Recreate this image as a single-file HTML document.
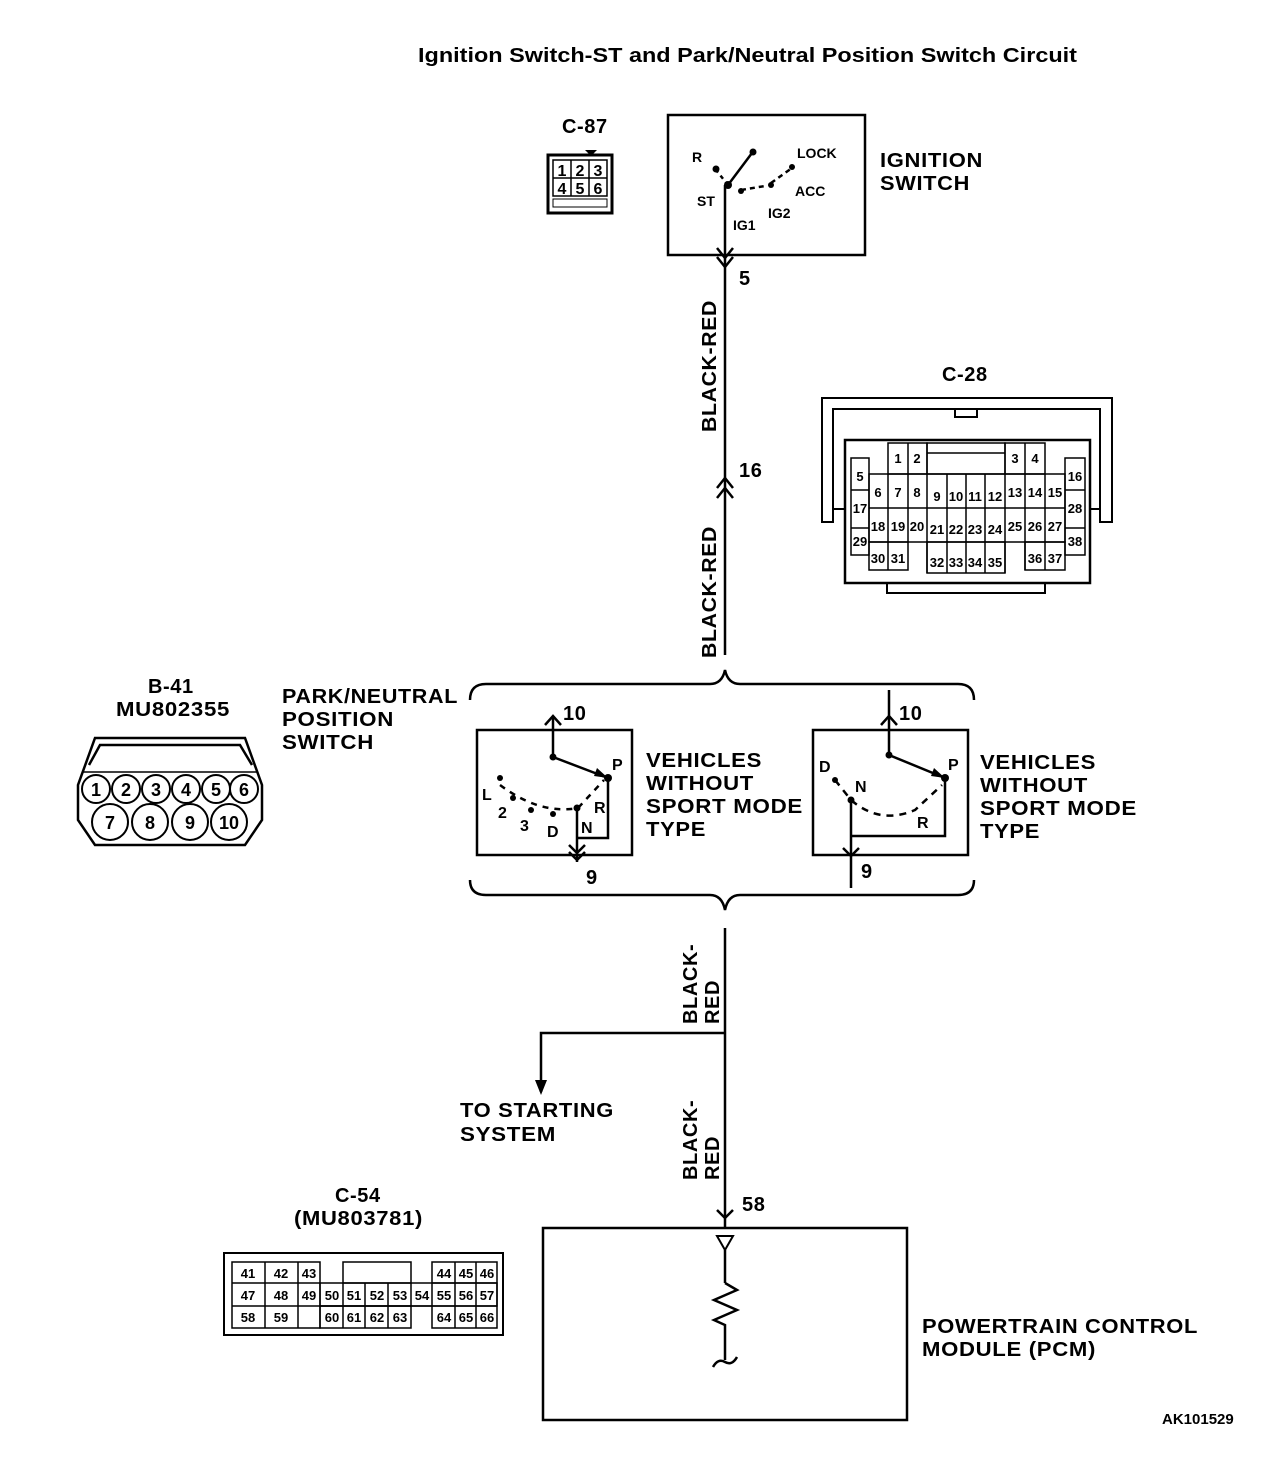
<!DOCTYPE html>
<html><head><meta charset="utf-8"><style>
html,body{margin:0;padding:0;background:#fff;}
svg{display:block;}
text{font-family:"Liberation Sans",sans-serif;fill:#000;font-weight:bold;}
.w{letter-spacing:0.6px;}
</style></head><body>
<svg width="1280" height="1462" viewBox="0 0 1280 1462" xmlns="http://www.w3.org/2000/svg">
<g stroke="#000" fill="none" stroke-width="2.5">
<line x1="725" y1="185" x2="725" y2="655"/>
<line x1="725" y1="928" x2="725" y2="1228"/>
<polyline points="725,1033 541,1033 541,1092"/>
<rect x="668" y="115" width="197" height="140"/>
<line x1="728" y1="185" x2="752" y2="153"/>
<line x1="728" y1="185" x2="716" y2="170" stroke-dasharray="4,4"/>
<line x1="741" y1="190" x2="765" y2="186" stroke-dasharray="5,4"/>
<line x1="771" y1="183" x2="792" y2="168" stroke-dasharray="5,4"/>
<polyline points="717,257 725,267 733,257"/>
<polyline points="717,248 725,258 733,248"/>
<polyline points="717,488 725,478 733,488"/>
<polyline points="717,498 725,488 733,498"/>
<path d="M470,700 Q470,684 486,684 L710,684 Q722,684 725,670 Q728,684 740,684 L958,684 Q974,684 974,700"/>
<path d="M470,880 Q470,895 486,895 L710,895 Q722,895 725,910 Q728,895 740,895 L958,895 Q974,895 974,880"/>
<rect x="477" y="730" width="155" height="125"/>
<line x1="553" y1="718" x2="553" y2="757"/>
<polyline points="545,725 553,716 561,725"/>
<line x1="553" y1="757" x2="608" y2="778"/>
<polyline points="608,778 608,838 577,838"/>
<line x1="577" y1="808" x2="577" y2="862"/>
<polyline points="569,845 577,853 585,845"/>
<polyline points="569,852 577,860 585,852"/>
<path d="M500,785 Q540,815 578,808 L604,780" stroke-dasharray="6,6"/>
<rect x="813" y="730" width="155" height="125"/>
<line x1="889" y1="690" x2="889" y2="755"/>
<polyline points="881,725 889,716 897,725"/>
<line x1="889" y1="755" x2="945" y2="778"/>
<polyline points="945,778 945,836 851,836"/>
<line x1="851" y1="800" x2="851" y2="888"/>
<polyline points="843,848 851,856 859,848"/>
<path d="M835,780 L851,800 Q880,825 915,810 L942,785" stroke-dasharray="7,6"/>
<rect x="543" y="1228" width="364" height="192"/>
<polyline points="717,1210 725,1218 733,1210"/>
<line x1="725" y1="1250" x2="725" y2="1283"/>
<polyline points="725,1283 737,1290 714,1300 737,1310 714,1320 725,1325 725,1360"/>
<path d="M713,1367 Q718,1358 725,1362 Q732,1366 737,1357"/>
<rect x="548" y="155" width="64" height="58" stroke-width="3"/>
<rect x="553" y="160" width="54" height="36" stroke-width="1.5"/>
<line x1="553" y1="178" x2="607" y2="178" stroke-width="1.5"/>
<line x1="571" y1="160" x2="571" y2="196" stroke-width="1.5"/>
<line x1="589" y1="160" x2="589" y2="196" stroke-width="1.5"/>
<rect x="553" y="199" width="54" height="8" stroke-width="1"/>
<path d="M95,738 L245,738 L262,785 L262,820 L245,845 L95,845 L78,820 L78,785 Z"/>
<path d="M89,765 L100,745 L240,745 L252,765"/>
<line x1="82" y1="772" x2="258" y2="772" stroke-width="1.5"/>
<path d="M822,398 L1112,398 L1112,522 L1100,522 L1100,409 L833,409 L833,522 L822,522 Z" stroke-width="2"/>
<rect x="955" y="409" width="22" height="8" stroke-width="2"/>
<rect x="845" y="440" width="245" height="143" stroke-width="2.5"/>
<rect x="887" y="583" width="158" height="10" stroke-width="2"/>
<line x1="833" y1="509" x2="845" y2="509" stroke-width="2"/>
<line x1="1090" y1="509" x2="1100" y2="509" stroke-width="2"/>
<rect x="224" y="1253" width="279" height="82" stroke-width="2"/>
</g>
<g fill="#000">
<circle cx="728" cy="185" r="4"/><circle cx="753" cy="152" r="3.5"/><circle cx="716" cy="169" r="3.5"/>
<circle cx="741" cy="191" r="3"/><circle cx="771" cy="185" r="3"/><circle cx="792" cy="167" r="3"/>
<circle cx="553" cy="757" r="3.5"/><circle cx="608" cy="778" r="4"/><circle cx="577" cy="808" r="3.5"/><circle cx="553" cy="814" r="3"/><circle cx="500" cy="778" r="3"/><circle cx="513" cy="798" r="3"/><circle cx="531" cy="810" r="3"/>
<polygon points="597,768 608,778 594,776"/>
<circle cx="889" cy="755" r="3.5"/><circle cx="945" cy="778" r="4"/><circle cx="851" cy="800" r="3.5"/><circle cx="835" cy="780" r="3"/>
<polygon points="934,768 945,778 931,776"/>
<polygon points="535,1080 547,1080 541,1095"/>
<polygon points="585,150 597,150 591,156"/>
</g>
<polygon points="717,1236 733,1236 725,1250" fill="none" stroke="#000" stroke-width="2"/>
<g fill="none" stroke="#000" stroke-width="2">
<circle cx="96" cy="789" r="14"/><circle cx="126" cy="789" r="14"/><circle cx="156" cy="789" r="14"/><circle cx="186" cy="789" r="14"/><circle cx="216" cy="789" r="14"/><circle cx="244" cy="789" r="14"/>
<circle cx="110" cy="822" r="18"/><circle cx="150" cy="822" r="18"/><circle cx="190" cy="822" r="18"/><circle cx="229" cy="822" r="18"/>
</g>
<g font-size="18" text-anchor="middle">
<text x="96" y="796">1</text><text x="126" y="796">2</text><text x="156" y="796">3</text><text x="186" y="796">4</text><text x="216" y="796">5</text><text x="244" y="796">6</text>
<text x="110" y="829">7</text><text x="150" y="829">8</text><text x="190" y="829">9</text><text x="229" y="829">10</text>
</g>
<g font-size="16" text-anchor="middle">
<text x="562" y="176">1</text><text x="580" y="176">2</text><text x="598" y="176">3</text>
<text x="562" y="194">4</text><text x="580" y="194">5</text><text x="598" y="194">6</text>
</g>
<g fill="none" stroke="#000" stroke-width="1.5">
<rect x="888" y="443" width="39" height="31"/><line x1="908" y1="443" x2="908" y2="474"/>
<rect x="927" y="443" width="78" height="31"/><line x1="927" y1="453" x2="1005" y2="453"/>
<rect x="1005" y="443" width="40" height="31"/><line x1="1025" y1="443" x2="1025" y2="474"/>
<rect x="851" y="458" width="18" height="97"/><line x1="851" y1="490" x2="869" y2="490"/><line x1="851" y1="528" x2="869" y2="528"/>
<rect x="1065" y="458" width="20" height="97"/><line x1="1065" y1="490" x2="1085" y2="490"/><line x1="1065" y1="528" x2="1085" y2="528"/>
<rect x="869" y="474" width="196" height="68"/>
<line x1="869" y1="508" x2="1065" y2="508"/>
<line x1="888" y1="474" x2="888" y2="570"/><line x1="908" y1="474" x2="908" y2="542"/><line x1="927" y1="474" x2="927" y2="573"/><line x1="947" y1="474" x2="947" y2="573"/><line x1="966" y1="474" x2="966" y2="573"/><line x1="985" y1="474" x2="985" y2="573"/><line x1="1005" y1="474" x2="1005" y2="573"/><line x1="1025" y1="474" x2="1025" y2="570"/><line x1="1045" y1="474" x2="1045" y2="570"/>
<rect x="869" y="542" width="39" height="28"/>
<rect x="927" y="542" width="78" height="31"/>
<rect x="1025" y="542" width="40" height="28"/>
</g>
<g font-size="13" text-anchor="middle">
<text x="898" y="463">1</text><text x="917" y="463">2</text><text x="1015" y="463">3</text><text x="1035" y="463">4</text>
<text x="860" y="481">5</text><text x="1075" y="481">16</text>
<text x="878" y="497">6</text><text x="898" y="497">7</text><text x="917" y="497">8</text><text x="937" y="501">9</text><text x="956" y="501">10</text><text x="975" y="501">11</text><text x="995" y="501">12</text><text x="1015" y="497">13</text><text x="1035" y="497">14</text><text x="1055" y="497">15</text>
<text x="860" y="513">17</text><text x="1075" y="513">28</text>
<text x="878" y="531">18</text><text x="898" y="531">19</text><text x="917" y="531">20</text><text x="937" y="534">21</text><text x="956" y="534">22</text><text x="975" y="534">23</text><text x="995" y="534">24</text><text x="1015" y="531">25</text><text x="1035" y="531">26</text><text x="1055" y="531">27</text>
<text x="860" y="546">29</text><text x="1075" y="546">38</text>
<text x="878" y="563">30</text><text x="898" y="563">31</text><text x="937" y="567">32</text><text x="956" y="567">33</text><text x="975" y="567">34</text><text x="995" y="567">35</text><text x="1035" y="563">36</text><text x="1055" y="563">37</text>
</g>
<g fill="none" stroke="#000" stroke-width="1.5">
<rect x="232" y="1262" width="88" height="66"/>
<line x1="232" y1="1283" x2="320" y2="1283"/><line x1="232" y1="1306" x2="497" y2="1306"/>
<line x1="265" y1="1262" x2="265" y2="1328"/><line x1="298" y1="1262" x2="298" y2="1328"/>
<rect x="343" y="1262" width="68" height="21"/>
<rect x="320" y="1283" width="177" height="23"/>
<rect x="432" y="1262" width="65" height="66"/>
<line x1="432" y1="1283" x2="497" y2="1283"/>
<line x1="455" y1="1262" x2="455" y2="1328"/><line x1="476" y1="1262" x2="476" y2="1328"/>
<rect x="320" y="1306" width="91" height="22"/>
<line x1="343" y1="1283" x2="343" y2="1328"/><line x1="365" y1="1283" x2="365" y2="1328"/><line x1="388" y1="1283" x2="388" y2="1328"/><line x1="411" y1="1283" x2="411" y2="1306"/>
</g>
<g font-size="13" text-anchor="middle">
<text x="248" y="1278">41</text><text x="281" y="1278">42</text><text x="309" y="1278">43</text><text x="444" y="1278">44</text><text x="466" y="1278">45</text><text x="487" y="1278">46</text>
<text x="248" y="1300">47</text><text x="281" y="1300">48</text><text x="309" y="1300">49</text><text x="332" y="1300">50</text><text x="354" y="1300">51</text><text x="377" y="1300">52</text><text x="400" y="1300">53</text><text x="422" y="1300">54</text><text x="444" y="1300">55</text><text x="466" y="1300">56</text><text x="487" y="1300">57</text>
<text x="248" y="1322">58</text><text x="281" y="1322">59</text><text x="332" y="1322">60</text><text x="354" y="1322">61</text><text x="377" y="1322">62</text><text x="400" y="1322">63</text><text x="444" y="1322">64</text><text x="466" y="1322">65</text><text x="487" y="1322">66</text>
</g>
<text x="418" y="62" font-size="20" textLength="659" lengthAdjust="spacingAndGlyphs">Ignition Switch-ST and Park/Neutral Position Switch Circuit</text>
<g font-size="20" class="w">
<text x="562" y="133">C-87</text>
<text x="880" y="167" textLength="103" lengthAdjust="spacingAndGlyphs">IGNITION</text><text x="880" y="190" textLength="90" lengthAdjust="spacingAndGlyphs">SWITCH</text>
<text x="942" y="381">C-28</text>
<text x="148" y="693">B-41</text><text x="116" y="716" textLength="114" lengthAdjust="spacingAndGlyphs">MU802355</text>
<text x="282" y="703" textLength="176" lengthAdjust="spacingAndGlyphs">PARK/NEUTRAL</text><text x="282" y="726" textLength="112" lengthAdjust="spacingAndGlyphs">POSITION</text><text x="282" y="749" textLength="92" lengthAdjust="spacingAndGlyphs">SWITCH</text>
<text x="646" y="767" textLength="116" lengthAdjust="spacingAndGlyphs">VEHICLES</text><text x="646" y="790" textLength="108" lengthAdjust="spacingAndGlyphs">WITHOUT</text><text x="646" y="813" textLength="157" lengthAdjust="spacingAndGlyphs">SPORT MODE</text><text x="646" y="836" textLength="60" lengthAdjust="spacingAndGlyphs">TYPE</text>
<text x="980" y="769" textLength="116" lengthAdjust="spacingAndGlyphs">VEHICLES</text><text x="980" y="792" textLength="108" lengthAdjust="spacingAndGlyphs">WITHOUT</text><text x="980" y="815" textLength="157" lengthAdjust="spacingAndGlyphs">SPORT MODE</text><text x="980" y="838" textLength="60" lengthAdjust="spacingAndGlyphs">TYPE</text>
<text x="460" y="1117" textLength="154" lengthAdjust="spacingAndGlyphs">TO STARTING</text><text x="460" y="1141" textLength="96" lengthAdjust="spacingAndGlyphs">SYSTEM</text>
<text x="335" y="1202">C-54</text><text x="294" y="1225" textLength="129" lengthAdjust="spacingAndGlyphs">(MU803781)</text>
<text x="922" y="1333" textLength="276" lengthAdjust="spacingAndGlyphs">POWERTRAIN CONTROL</text><text x="922" y="1356" textLength="174" lengthAdjust="spacingAndGlyphs">MODULE (PCM)</text>
<text x="739" y="285">5</text><text x="739" y="477">16</text>
<text x="563" y="720">10</text><text x="899" y="720">10</text>
<text x="586" y="884">9</text><text x="861" y="878">9</text>
<text x="742" y="1211">58</text>
</g>
<text x="1162" y="1424" font-size="15">AK101529</text>
<g font-size="14">
<text x="692" y="162">R</text><text x="797" y="158">LOCK</text><text x="697" y="206">ST</text><text x="795" y="196">ACC</text><text x="733" y="230">IG1</text><text x="768" y="218">IG2</text>
<text x="612" y="770" font-size="16">P</text><text x="482" y="800" font-size="16">L</text><text x="498" y="818" font-size="16">2</text><text x="520" y="831" font-size="16">3</text><text x="547" y="837" font-size="16">D</text><text x="581" y="833" font-size="16">N</text><text x="594" y="813" font-size="16">R</text>
<text x="948" y="770" font-size="16">P</text><text x="819" y="772" font-size="16">D</text><text x="855" y="792" font-size="16">N</text><text x="917" y="828" font-size="16">R</text>
</g>
<g font-size="20" class="w">
<text transform="translate(716,432) rotate(-90)" textLength="132" lengthAdjust="spacingAndGlyphs">BLACK-RED</text>
<text transform="translate(716,658) rotate(-90)" textLength="132" lengthAdjust="spacingAndGlyphs">BLACK-RED</text>
<text transform="translate(697,1024) rotate(-90)">BLACK-</text><text transform="translate(719,1024) rotate(-90)">RED</text>
<text transform="translate(697,1180) rotate(-90)">BLACK-</text><text transform="translate(719,1180) rotate(-90)">RED</text>
</g>
</svg>
</body></html>
